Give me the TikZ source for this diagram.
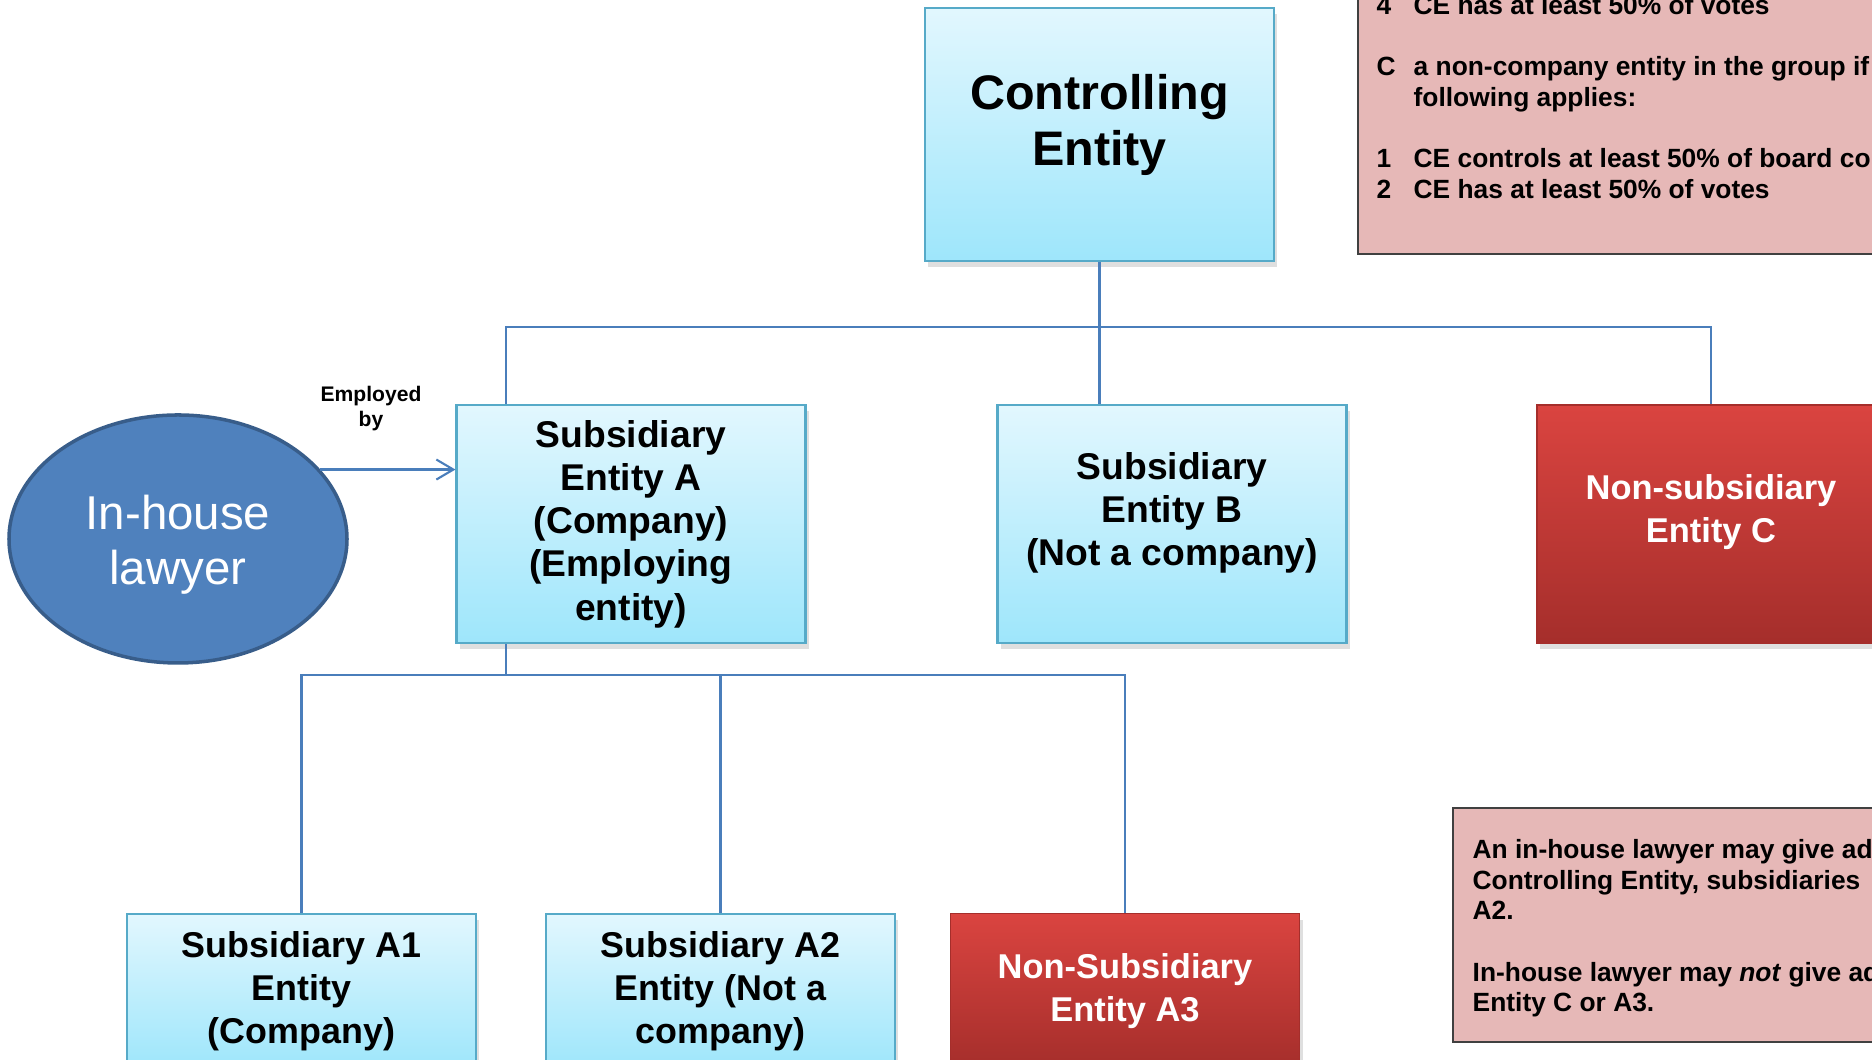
\documentclass[tikz,border=0pt]{standalone}
\usepackage{fontspec}
\setmainfont{Liberation Sans}
\usetikzlibrary{positioning,arrows.meta,shadows,shapes.geometric}
\definecolor{boxtop}{RGB}{226,247,254}
\definecolor{boxbottom}{RGB}{158,230,251}
\definecolor{boxedge}{RGB}{86,170,200}
\definecolor{redtop}{RGB}{218,68,64}
\definecolor{redbottom}{RGB}{165,46,43}
\definecolor{linkblue}{RGB}{74,126,187}
\definecolor{lawyerblue}{RGB}{79,129,189}
\definecolor{lawyeredge}{RGB}{56,93,138}
\definecolor{notepink}{RGB}{230,184,183}

\begin{document}
\begin{tikzpicture}[x=1cm,y=1cm,>=Latex]
  \tikzset{
    entity/.style={rectangle,draw=boxedge,line width=0.6pt,top color=boxtop,bottom color=boxbottom,
      minimum width=3.49cm,minimum height=2.38cm,align=center,inner sep=1pt,
      font=\bfseries\fontsize{10.6}{12.3}\selectfont,
      drop shadow={opacity=0.25,shadow xshift=0.3mm,shadow yshift=-0.6mm}},
    outsider/.style={entity,draw=redbottom,line width=0.4pt,top color=redtop,bottom color=redbottom,
      text=white,font=\bfseries\fontsize{9.8}{12.2}\selectfont},
    lower/.style={minimum height=1.54cm,anchor=north},
    lifted/.style={text depth=#1},
    link/.style={draw=linkblue,line width=0.6pt},
    note/.style={rectangle,draw=black!75,line width=0.6pt,fill=notepink},
    notetext/.style={inner sep=0pt,anchor=north west,font=\bfseries\fontsize{7.5}{8.71}\selectfont},
  }
  \useasboundingbox (0,0) rectangle (18.72,10.60);
  \clip (0,0) rectangle (18.72,10.60);

  \node[note,minimum width=6cm,minimum height=4cm,anchor=south west] (rules) at (13.57,8.05) {};
  \node[notetext] (rulestext) at (13.76,10.674) {\begin{tabular}{@{}p{3.7mm}@{}l@{}}
    4 & CE has at least 50\% of votes\\ & \\
    C & a non-company entity in the group if\\ & following applies:\\ & \\
    1 & CE controls at least 50\% of board composition\\
    2 & CE has at least 50\% of votes
  \end{tabular}};

  \node[note,minimum width=6cm,minimum height=2.34cm,anchor=north west] (advice) at (14.52,2.53) {};
  \node[notetext] (advicetext) at (14.72,2.234) {\begin{tabular}{@{}l@{}}
    An in-house lawyer may give advice\\
    Controlling Entity, subsidiaries\\
    A2.\\ \\
    In-house lawyer may \textit{not} give advice\\
    Entity C or A3.
  \end{tabular}};

  \node[entity,minimum height=2.53cm,font=\bfseries\fontsize{13.8}{15.9}\selectfont,lifted=8.4pt]
    (ce) at (10.995,9.255) {Controlling\\Entity};
  \node[entity] (sa) at (6.31,5.36) {Subsidiary\\Entity A\\(Company)\\(Employing\\entity)};
  \node[entity,lifted=8.6pt] (sb) at (11.72,5.36) {Subsidiary\\Entity B\\(Not a company)};
  \node[outsider,minimum width=3.48cm,lifted=8.9pt] (sc) at (17.11,5.36) {Non-subsidiary\\Entity C};

  \node[entity,lower,font=\bfseries\fontsize{10.2}{12.3}\selectfont] (a1) at (3.015,1.47) {Subsidiary A1\\Entity\\(Company)};
  \node[entity,lower,font=\bfseries\fontsize{10.2}{12.3}\selectfont] (a2) at (7.205,1.47) {Subsidiary A2\\Entity (Not a\\company)};
  \node[outsider,lower] (a3) at (11.25,1.47) {Non-Subsidiary\\Entity A3};

  \node[ellipse,fill=lawyerblue,draw=lawyeredge,line width=1pt,minimum width=3.38cm,minimum height=2.48cm,
    inner sep=0pt,text=white,align=center,text height=28.8pt,font=\fontsize{13.5}{15.6}\selectfont]
    (law) at (1.78,5.21) {In-house\\lawyer};
  \node[font=\bfseries\fontsize{6}{7.1}\selectfont,align=center] (emp) at (3.71,6.51) {Employed\\by};

  \coordinate (tap) at (5.06,7.33);
  \coordinate (lowbus) at (5.06,3.85);
  \draw[link] (ce.south) |- (tap) -- (tap |- sa.north);
  \draw[link] (ce.south) |- (sc.north |- tap) -- (sc.north);
  \draw[link] (ce.south) -- (ce.south |- sb.north);
  \draw[link] (tap |- sa.south) |- (a1.north |- lowbus) -- (a1.north);
  \draw[link] (tap |- sa.south) |- (a3.north |- lowbus) -- (a3.north);
  \draw[link] (a2.north |- lowbus) -- (a2.north);
  \draw[link,-{Straight Barb[length=1.7mm,width=2mm]}] (law.26.6) -- (law.26.6 -| sa.west);
\end{tikzpicture}
\end{document}
